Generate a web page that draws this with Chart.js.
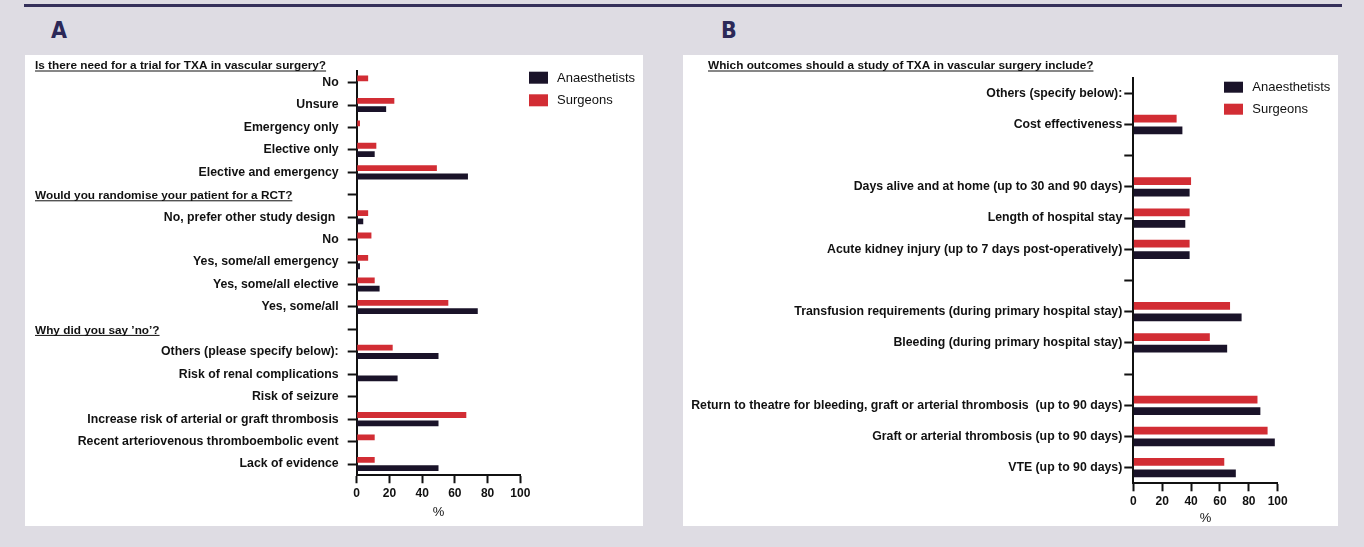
<!DOCTYPE html>
<html>
<head>
<meta charset="utf-8">
<title>TXA in vascular surgery – survey responses</title>
<script src="https://cdn.jsdelivr.net/npm/chart.js@4.4.1/dist/chart.umd.min.js"></script>
<style>
  html, body { margin: 0; padding: 0; }
  body {
    width: 1364px; height: 547px; position: relative; overflow: hidden;
    background: #dedce3;
    font-family: "Liberation Sans", Arial, sans-serif;
  }
  .rule { position: absolute; left: 24px; top: 4px; width: 1318px; height: 3px; background: #35305a; }
  .tag {
    position: absolute; top: 19px; line-height: 1;
    font-family: "DejaVu Sans Condensed", "Liberation Sans Narrow", sans-serif;
    font-weight: bold; font-size: 23px; color: #2b2857;
  }
  .panel { position: absolute; top: 55px; height: 471px; background: #fff; }
  #panelA { left: 25px; width: 618px; }
  #panelB { left: 683px; width: 655px; }
  canvas { display: block; }
</style>
</head>
<body>
<div class="rule"></div>
<div class="tag" style="left:51px">A</div>
<div class="tag" style="left:721px">B</div>
<div class="panel" id="panelA"><canvas id="chartA" width="618" height="471"></canvas></div>
<div class="panel" id="panelB"><canvas id="chartB" width="655" height="471"></canvas></div>

<script>
// ---- Panel A: need for a trial / randomisation / reasons for "no" ----
const titleA = 'Is there need for a trial for TXA in vascular surgery?';
const categoriesA = [
  'No', 'Unsure', 'Emergency only', 'Elective only', 'Elective and emergency',
  '',
  'No, prefer other study design ', 'No', 'Yes, some/all emergency', 'Yes, some/all elective', 'Yes, some/all',
  '',
  'Others (please specify below):', 'Risk of renal complications', 'Risk of seizure',
  'Increase risk of arterial or graft thrombosis', 'Recent arteriovenous thromboembolic event', 'Lack of evidence'
];
// section headings sit on the blank category rows
const headingRowsA = [5, 11];
const headingTextsA = ['Would you randomise your patient for a RCT?', 'Why did you say \u2019no\u2019?'];
const surgeonsA =      [7, 23, 2, 12, 49, null, 7, 9, 7, 11, 56, null, 22, 0, 0, 67, 11, 11];
const anaesthetistsA = [0, 18, 0, 11, 68, null, 4, 0, 2, 14, 74, null, 50, 25, 0, 50, 0, 50];

// ---- Panel B: outcomes a study should include ----
const titleB = 'Which outcomes should a study of TXA in vascular surgery include?';
const categoriesB = [
  'Others (specify below):', 'Cost effectiveness',
  '',
  'Days alive and at home (up to 30 and 90 days)', 'Length of hospital stay',
  'Acute kidney injury (up to 7 days post-operatively)',
  '',
  'Transfusion requirements (during primary hospital stay)', 'Bleeding (during primary hospital stay)',
  '',
  'Return to theatre for bleeding, graft or arterial thrombosis  (up to 90 days)',
  'Graft or arterial thrombosis (up to 90 days)', 'VTE (up to 90 days)'
];
const surgeonsB =      [0, 30, null, 40, 39, 39, null, 67, 53, null, 86, 93, 63];
const anaesthetistsB = [0, 34, null, 39, 36, 39, null, 75, 65, null, 88, 98, 71];

const percentTicks = [0, 20, 40, 60, 80, 100];
const seriesNames = ['Surgeons', 'Anaesthetists'];

const RED = '#d22d34';
const DARK = '#1a1329';
const INK = '#111111';
const FONT = '"Liberation Sans", Arial, sans-serif';

Chart.defaults.font.family = FONT;
Chart.defaults.color = INK;

// Underlined bold headings: panel title plus headings on blank category rows
const headingsPlugin = {
  id: 'headings',
  afterDraw(chart, args, opts) {
    const ctx = chart.ctx;
    const yScale = chart.scales.y;
    ctx.save();
    ctx.font = 'bold 11.8px ' + FONT;
    ctx.fillStyle = INK;
    ctx.textAlign = 'left';
    ctx.textBaseline = 'alphabetic';
    const put = (text, midY) => {
      const base = midY + 4.3;
      ctx.fillText(text, opts.x, base);
      const w = ctx.measureText(text).width;
      ctx.fillRect(opts.x, base + 1.2, w, 1);
    };
    put(opts.title, opts.titleY);
    (opts.rows || []).forEach((row, i) => put(opts.texts[i], yScale.getPixelForValue(row)));
    ctx.restore();
  }
};

// Legend listing Anaesthetists first, then Surgeons
const legendPlugin = {
  id: 'sideLegend',
  afterDraw(chart, args, opts) {
    const ctx = chart.ctx;
    const items = chart.data.datasets.slice().reverse();
    ctx.save();
    ctx.font = '13px ' + FONT;
    ctx.textAlign = 'left';
    ctx.textBaseline = 'middle';
    items.forEach((ds, i) => {
      const top = opts.y + i * opts.step;
      ctx.fillStyle = ds.backgroundColor;
      ctx.fillRect(opts.x, top, opts.boxW, opts.boxH);
      ctx.fillStyle = INK;
      ctx.fillText(ds.label, opts.x + opts.textGap, top + opts.boxH / 2 + 0.5);
    });
    ctx.restore();
  }
};

function makeChart(id, cfg) {
  return new Chart(document.getElementById(id), {
    type: 'bar',
    data: {
      labels: cfg.labels,
      datasets: [
        { label: seriesNames[0], data: cfg.surgeons, backgroundColor: RED },
        { label: seriesNames[1], data: cfg.anaesthetists, backgroundColor: DARK }
      ]
    },
    options: {
      indexAxis: 'y',
      responsive: false,
      animation: false,
      layout: { padding: { top: cfg.padTop, right: cfg.padRight, bottom: 0, left: 0 } },
      datasets: { bar: { categoryPercentage: cfg.catPct, barPercentage: cfg.barPct } },
      plugins: {
        legend: { display: false },
        tooltip: { enabled: false },
        headings: cfg.headings,
        sideLegend: cfg.legend
      },
      scales: {
        x: {
          type: 'linear',
          min: 0, max: 100,
          afterBuildTicks: (s) => { s.ticks = percentTicks.map(v => ({ value: v })); },
          ticks: { font: { size: 12, weight: 'bold' }, color: INK, padding: 3 },
          grid: { drawOnChartArea: false, drawTicks: true, tickLength: 8, tickWidth: 2, tickColor: INK },
          border: { display: true, width: 2, color: INK },
          title: { display: true, text: '%', font: { size: 13 }, color: INK, padding: { top: 0, bottom: cfg.pctPad } },
          afterFit: (s) => { s.height = cfg.xHeight; }
        },
        y: {
          type: 'category',
          offset: true,
          ticks: { font: { size: 12.3, weight: 'bold' }, color: INK, padding: cfg.labelPad, autoSkip: false },
          grid: { offset: false, drawOnChartArea: false, drawTicks: true, tickLength: 9, tickWidth: 2, tickColor: INK },
          border: { display: true, width: 2, color: INK },
          afterFit: (s) => { s.width = cfg.yWidth; }
        }
      }
    },
    plugins: [headingsPlugin, legendPlugin]
  });
}

makeChart('chartA', {
  labels: categoriesA,
  surgeons: surgeonsA,
  anaesthetists: anaesthetistsA,
  padTop: 15.5, padRight: 122.7,
  yWidth: 331.7, xHeight: 50.75,
  catPct: 0.74, barPct: 0.7,
  labelPad: 9, pctPad: 6,
  headings: { x: 10, titleY: 10, title: titleA, rows: headingRowsA, texts: headingTextsA },
  legend: { x: 504, y: 16.7, step: 22.6, boxW: 19, boxH: 12, textGap: 28 }
});

makeChart('chartB', {
  labels: categoriesB,
  surgeons: surgeonsB,
  anaesthetists: anaesthetistsB,
  padTop: 22.7, padRight: 60.3,
  yWidth: 450.3, xHeight: 42.7,
  catPct: 0.74, barPct: 0.67,
  labelPad: 2, pctPad: 0,
  headings: { x: 25, titleY: 10, title: titleB, rows: [], texts: [] },
  legend: { x: 541, y: 26.7, step: 22, boxW: 19, boxH: 11, textGap: 28.3 }
});
</script>
</body>
</html>
